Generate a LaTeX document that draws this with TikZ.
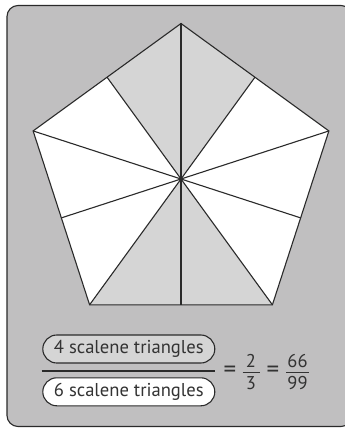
\documentclass[tikz,border=0pt]{standalone}
\usepackage{fontspec}
\setmainfont{PT Sans}
\usetikzlibrary{calc,shapes.misc}
\definecolor{bg}{HTML}{C0BFC0}
\definecolor{shadegray}{HTML}{D5D5D5}
\definecolor{ink}{HTML}{2A2A2A}
\definecolor{txt}{HTML}{333333}
\tikzset{
  edge/.style={draw=ink,line width=1.1pt},
  capsule/.style={rounded rectangle,draw=ink,line width=1.1pt,minimum width=172pt,minimum height=28pt,inner sep=0pt,text=txt,font=\fontsize{18.6}{21}\selectfont},
  lbl/.style={text=txt,font=\fontsize{18.5}{21}\selectfont,inner sep=0pt},
  eqsign/.style={text=txt,font=\fontsize{25}{27}\selectfont,inner sep=0pt}
}
\begin{document}
\begin{tikzpicture}[x=1pt,y=-1pt]
\useasboundingbox (0,0) rectangle (345,428);
\begin{scope}
\clip (0,0) rectangle (345,428);
\draw[fill=bg,draw=ink,line width=1.1pt,rounded corners=11pt] (7,5.5) rectangle (352,426.5);
\end{scope}
\coordinate (O) at (181,179);
\foreach \k in {0,...,4}{
  \path (O) ++({-(90+72*\k)}:155.5) coordinate (V\k);
  \path (O) ++({-(126+72*\k)}:{155.5*cos(36)}) coordinate (M\k);
}
\fill[white] (V0)--(V1)--(V2)--(V3)--(V4)--cycle;
\fill[shadegray] (O)--(M0)--(V0)--(M4)--cycle;
\fill[shadegray] (O)--(V2)--(M2)--(V3)--cycle;
\foreach \k in {0,...,4}{
  \draw[edge] (O)--(V\k);
  \draw[edge] (O)--(M\k);
}
\draw[edge,line join=miter] (V0)--(V1)--(V2)--(V3)--(V4)--cycle;
\fill[ink] (O) circle (1.6pt);
% fraction
\node[capsule,fill=shadegray] (num) at (128.8,349) {4 scalene triangles};
\node[capsule,fill=white] (den) at (128.8,391.8) {6 scalene triangles};
\coordinate (barL) at (41.7,370.7);
\coordinate (barR) at (215,370.7);
\draw[draw=ink,line width=1.8pt] (barL)--(barR);
\node[eqsign] (eq1) at (230,371.5) {=};
\node[lbl] (two) at (251,361) {2};
\node[lbl] (three) at (251,383.5) {3};
\coordinate (f1L) at (242.5,372);
\coordinate (f1R) at (259.5,372);
\draw[txt,line width=1pt] (f1L)--(f1R);
\node[eqsign] (eq2) at (273,371.5) {=};
\node[lbl] (num66) at (297.5,361) {66};
\node[lbl] (den99) at (297.5,383.5) {99};
\coordinate (f2L) at (286,372);
\coordinate (f2R) at (309,372);
\draw[txt,line width=1pt] (f2L)--(f2R);
\end{tikzpicture}
\end{document}
